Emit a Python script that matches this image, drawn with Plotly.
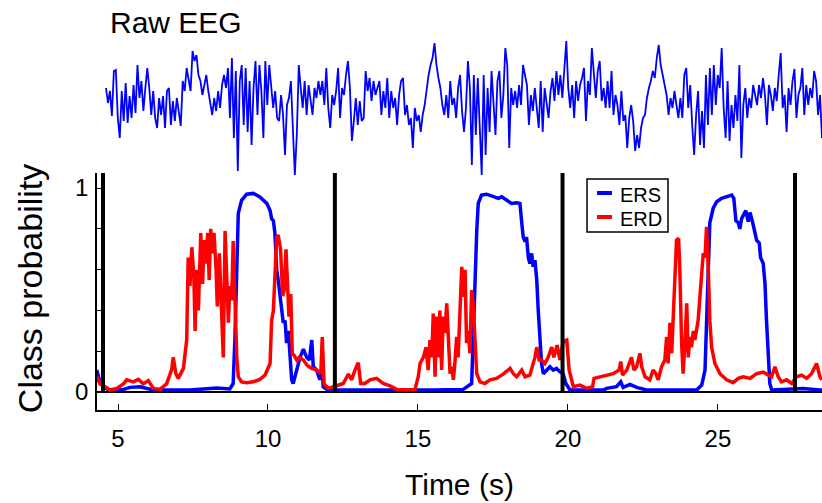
import numpy as np
import plotly.graph_objects as go

# ---------------- data ----------------
# Raw EEG trace (arbitrary units), uniformly sampled between eeg_t_start and eeg_t_end
eeg_t_start = 4.6
eeg_t_end = 28.47
eeg_seg1 = [17, 2, 14, -11, 34, 35, -13, -33, 14, -16, 22, -18, 9, -13, 20, -8, 40, 7, 24, -6,
            17, 37, 17, -10, 14, -13, -23, 7, -10, 9, -23, 14, 17, -20, 4, -16, 7, -10, -21, 24,
            14, 37, 27, 14, 54, 44, 50, 30, 24, 10, 20, 30, 14, 0, -10, 7, -6, 14, -3, 20,
            30, 17, 37, -13, 47, -33, 34, -66, 24, 40, -20, 37, -27, 24]
eeg_seg2 = [-40, 17, 44, -10, 40, 14, -33, 44, 0, 40, 17, -3, 14, -13, -16, 10, -10, -50, 0, 7,
            24, -23, -70, -30, 40, 17, -3, 24, -10, 20, 4, -10, 17, 7, 24, 10, 24, 0, 37, -3,
            -23, 10, 0, 14, 37, -13, 17, 10, 30, 44, 17, -36, -16, 7, -20, 4, -16, -13, 34, 14,
            27, 4, 24, 10, 17, 24, -10, 14, -3, 27, -13, 14]
eeg_seg3 = [-3, 7, -20, 10, 24, 27, -10, 0, -20, -13, -43, -3, -16, -10, -27, -10, 0, 17, 30, 40,
            47, 62, 40, 27, 17, 0, -10, 10, -13, 24, 0, 7, -13, 17, 30, -6, -27, -3, 44, 17,
            -60, 30, -30, 27, -20, -70, 30, -50, 17, -27, 34, 4, -30, 24, 34, -13, 10, 57, 40, -43,
            17, 0, 14, -3, 20, 0, 40, 30, 20, -20, 10, -6, 17]
eeg_seg4 = [-3, -23, 24, -27, 17, 0, -13, 14, 27, 4, 34, 10, 30, 7, 40, 64, 17, -3, 20, -13,
            24, 4, 20, 27, 37, -16, 24, 10, 57, 34, 7, 34, 44, 4, 17, -3, 24, -3, 34, -10,
            10, 0, -20, 14, -16, -10, -43, -13, 0, -16, -46, -30, -43, -23, -13, -10, 7, 17, 24, 34,
            27, 47, 60, 40, 30, 20, 10, -10, 7, -3, 14, 0, -13]
eeg_seg5 = [7, -13, 30, 37, -3, 20, -20, -50, -10, 14, -40, -6, -43, 30, -20, 37, -10, 40, 0, 30,
            17, 57, -3, -33, 24, -36, 0, -23, 10, -16, 40, -53, 0, 17, -13, 7, -3, 20, 10, 0,
            20, 7, 27, 10, -20, 20, 10, -6, 17, 4, 30, 52, -3, 10, -27, 17, 0, 24, 36, -13,
            10, 17, 37, -10, 20, 0, 17, 7, 34, 24, -10, 10, -33]

# ERS class probability (time s, probability)
ers_t = [4.29, 4.38, 4.51, 4.68, 5.18, 5.40, 5.73, 5.96, 6.18, 7.40, 7.96, 8.29, 8.73, 8.84, 8.90,
         8.96, 9.01, 9.12, 9.29, 9.51, 9.73, 9.96, 10.07, 10.12, 10.18, 10.23, 10.29, 10.34, 10.40,
         10.46, 10.51, 10.57, 10.62, 10.68, 10.73, 10.79, 10.84, 10.96, 11.07, 11.18, 11.29, 11.38,
         11.46, 11.51, 11.62, 11.73, 11.81, 11.84, 11.96, 12.29, 13.5, 14.5, 15.5, 16.0, 16.5, 16.79,
         16.84, 16.90, 16.96, 17.01, 17.12, 17.29, 17.51, 17.68, 17.79, 17.96, 18.12, 18.29, 18.40,
         18.46, 18.51, 18.57, 18.62, 18.68, 18.73, 18.79, 18.84, 18.90, 18.96, 19.01, 19.07, 19.12,
         19.18, 19.29, 19.40, 19.51, 19.62, 19.73, 19.84, 19.93, 20.07, 21.18, 21.29, 21.62, 21.76,
         21.84, 22.07, 22.29, 22.46, 22.62, 24.29, 24.46, 24.57, 24.62, 24.68, 24.73, 24.84, 24.96,
         25.12, 25.29, 25.46, 25.53, 25.60, 25.68, 25.73, 25.79, 25.87, 25.93, 26.01, 26.07, 26.16,
         26.23, 26.29, 26.38, 26.42, 26.51, 26.57, 26.62, 26.68, 26.73, 26.79, 27.40, 27.84, 28.40,
         28.47]
ers_p = [0.108, 0.06, 0.026, 0.01, 0.013, 0.023, 0.026, 0.018, 0.01, 0.01, 0.016, 0.02, 0.015, 0.042,
         0.27, 0.60, 0.876, 0.94, 0.97, 0.974, 0.957, 0.925, 0.89, 0.85, 0.84, 0.78, 0.60, 0.55, 0.47,
         0.40, 0.34, 0.35, 0.24, 0.30, 0.21, 0.06, 0.042, 0.108, 0.17, 0.21, 0.17, 0.157,
         0.255, 0.124, 0.108, 0.06, 0.124, 0.026, 0.013, 0.01, 0.012, 0.01, 0.01, 0.012, 0.012, 0.042,
         0.27, 0.60, 0.79, 0.925, 0.966, 0.97, 0.96, 0.95, 0.957, 0.94, 0.925, 0.928, 0.925,
         0.83, 0.76, 0.737, 0.76, 0.66, 0.63, 0.68, 0.614, 0.647, 0.55, 0.40, 0.27, 0.14,
         0.09, 0.108, 0.124, 0.108, 0.116, 0.10, 0.09, 0.042, 0.01, 0.01, 0.018, 0.026, 0.05,
         0.023, 0.038, 0.023, 0.018, 0.01, 0.01, 0.034, 0.108, 0.35, 0.68, 0.83, 0.90, 0.933,
         0.95, 0.96, 0.966, 0.95, 0.84, 0.83, 0.80, 0.85, 0.876, 0.89, 0.835, 0.88, 0.83,
         0.78, 0.745, 0.73, 0.66, 0.63, 0.53, 0.35, 0.157, 0.042, 0.01, 0.013, 0.018, 0.01,
         0.01]

# ERD class probability (time s, probability)
erd_t = [4.29, 4.40, 4.57, 4.73, 4.96, 5.18, 5.29, 5.51, 5.68, 5.84, 6.01, 6.18, 6.40, 6.62, 6.79,
         6.84, 6.93, 7.01, 7.18, 7.29, 7.34, 7.40, 7.46, 7.53, 7.57, 7.62, 7.68, 7.76, 7.82, 7.87,
         7.93, 7.99, 8.04, 8.09, 8.16, 8.20, 8.27, 8.31, 8.38, 8.43, 8.51, 8.57, 8.62, 8.68, 8.73,
         8.79, 8.84, 8.90, 8.96, 9.01, 9.12, 9.29, 9.51, 9.73, 9.90, 10.07, 10.12, 10.18, 10.23,
         10.29, 10.34, 10.42, 10.49, 10.54, 10.60, 10.64, 10.70, 10.76, 10.81, 10.87, 10.96, 11.04,
         11.18, 11.31, 11.46, 11.62, 11.76, 11.81, 11.87, 12.01, 12.18, 12.34, 12.51, 12.68, 12.79,
         12.90, 13.01, 13.09, 13.23, 13.40, 13.62, 13.84, 14.07, 14.29, 14.62, 14.90, 15.01, 15.07,
         15.18, 15.27, 15.34, 15.40, 15.46, 15.51, 15.57, 15.62, 15.68, 15.73, 15.79, 15.84, 15.90,
         15.96, 16.01, 16.07, 16.12, 16.18, 16.23, 16.29, 16.34, 16.40, 16.46, 16.51, 16.57, 16.62,
         16.68, 16.73, 16.79, 16.84, 16.90, 16.96, 17.07, 17.23, 17.40, 17.62, 17.84, 18.07, 18.18,
         18.29, 18.46, 18.57, 18.73, 18.90, 18.96, 19.04, 19.12, 19.23, 19.34, 19.46, 19.53, 19.64,
         19.73, 19.84, 19.96, 20.04, 20.18, 20.40, 20.62, 20.82, 20.87, 21.07, 21.29, 21.51, 21.71,
         21.76, 21.82, 21.96, 22.07, 22.12, 22.20, 22.29, 22.40, 22.46, 22.57, 22.73, 22.84, 22.93,
         23.01, 23.12, 23.23, 23.29, 23.34, 23.40, 23.46, 23.51, 23.57, 23.62, 23.69, 23.73, 23.79,
         23.84, 23.90, 23.96, 24.01, 24.07, 24.12, 24.18, 24.23, 24.29, 24.34, 24.40, 24.46, 24.51,
         24.57, 24.62, 24.68, 24.73, 24.79, 24.90, 25.07, 25.29, 25.51, 25.68, 25.84, 26.07, 26.29,
         26.51, 26.68, 26.79, 26.90, 27.01, 27.12, 27.29, 27.46, 27.62, 27.79, 27.96, 28.12, 28.29,
         28.40, 28.47]
erd_p = [0.075, 0.04, 0.026, 0.01, 0.018, 0.04, 0.06, 0.05, 0.062, 0.04, 0.056, 0.018, 0.013, 0.04, 0.11,
         0.17, 0.09, 0.067, 0.116, 0.255, 0.66, 0.52, 0.71, 0.565, 0.30, 0.60, 0.40, 0.78, 0.53, 0.745,
         0.63, 0.78, 0.55, 0.80, 0.68, 0.78, 0.60, 0.42, 0.68, 0.47, 0.17, 0.79, 0.55, 0.34, 0.52,
         0.45, 0.74, 0.435, 0.17, 0.075, 0.05, 0.046, 0.05, 0.062, 0.083, 0.14, 0.35, 0.40, 0.60,
         0.76, 0.77, 0.70, 0.47, 0.50, 0.70, 0.565, 0.37, 0.48, 0.19, 0.18, 0.157, 0.17,
         0.157, 0.13, 0.116, 0.108, 0.09, 0.27, 0.04, 0.018, 0.026, 0.03, 0.042, 0.088, 0.06,
         0.108, 0.144, 0.042, 0.042, 0.06, 0.067, 0.042, 0.03, 0.013, 0.01, 0.013, 0.075, 0.14,
         0.17, 0.22, 0.108, 0.255, 0.17, 0.385, 0.075, 0.37, 0.17, 0.40, 0.108, 0.37, 0.29,
         0.435, 0.24, 0.09, 0.124, 0.06, 0.14, 0.27, 0.17, 0.40, 0.614, 0.467, 0.60, 0.24,
         0.30, 0.19, 0.50, 0.435, 0.22, 0.09, 0.05, 0.042, 0.06, 0.067, 0.088, 0.116, 0.09,
         0.075, 0.108, 0.075, 0.083, 0.17, 0.22, 0.157, 0.157, 0.14, 0.17, 0.22, 0.17, 0.23,
         0.157, 0.247, 0.255, 0.108, 0.026, 0.034, 0.018, 0.026, 0.067, 0.075, 0.083, 0.09, 0.108,
         0.15, 0.083, 0.108, 0.15, 0.17, 0.108, 0.124, 0.19, 0.124, 0.075, 0.06, 0.108, 0.09,
         0.06, 0.124, 0.157, 0.27, 0.14, 0.34, 0.19, 0.385, 0.63, 0.745, 0.753, 0.60, 0.24,
         0.09, 0.24, 0.435, 0.17, 0.27, 0.22, 0.30, 0.255, 0.30, 0.35, 0.467, 0.614, 0.68,
         0.66, 0.81, 0.60, 0.35, 0.22, 0.14, 0.09, 0.06, 0.046, 0.067, 0.075, 0.067, 0.09,
         0.098, 0.083, 0.075, 0.124, 0.075, 0.05, 0.06, 0.042, 0.075, 0.083, 0.067, 0.09, 0.14,
         0.075, 0.06]

# cue onsets (s)
cue_times = [4.5, 12.23, 19.82, 27.57]
x_ticks = [5, 10, 15, 20, 25]
y_ticks = [0, 0.2, 0.4, 0.6, 0.8, 1.0]
y_tick_text = ["0", "", "", "", "", "1"]
series_names = ["ERS", "ERD"]

# ---------------- figure ----------------
eeg_uv = eeg_seg1 + eeg_seg2 + eeg_seg3 + eeg_seg4 + eeg_seg5
eeg_t = np.linspace(eeg_t_start, eeg_t_end, len(eeg_uv))

FONT = "Liberation Sans, Arial, Helvetica, sans-serif"
BLUE = "#0000ff"
RED = "#ff0000"
series_colors = [BLUE, RED]

fig = go.Figure()
fig.add_trace(go.Scatter(x=eeg_t, y=eeg_uv, xaxis="x", yaxis="y2", mode="lines",
                         line=dict(color=BLUE, width=1.8), showlegend=False, hoverinfo="skip"))
fig.add_trace(go.Scatter(x=ers_t, y=ers_p, name=series_names[0], mode="lines",
                         line=dict(color=series_colors[0], width=3.5), showlegend=False))
fig.add_trace(go.Scatter(x=erd_t, y=erd_p, name=series_names[1], mode="lines",
                         line=dict(color=series_colors[1], width=3.5), showlegend=False))

for t in cue_times:
    fig.add_shape(type="line", xref="x", yref="y", x0=t, x1=t, y0=0, y1=1.074,
                  line=dict(color="black", width=4), layer="above")

# legend box (drawn in paper coordinates)
fig.add_shape(type="rect", xref="paper", yref="paper", x0=0.6759, x1=0.7876, y0=0.4684, y1=0.6079,
              line=dict(color="black", width=1.5), fillcolor="white", layer="above")
annotations = []
for i, (name, col) in enumerate(zip(series_names, series_colors)):
    ly = 0.5711 - i * 0.0632
    fig.add_shape(type="line", xref="paper", yref="paper", x0=0.6897, x1=0.7103, y0=ly, y1=ly,
                  line=dict(color=col, width=4), layer="above")
    annotations.append(dict(text=name, xref="paper", yref="paper", x=0.7186, y=ly - 0.004,
                            xanchor="left", yanchor="middle", showarrow=False,
                            font=dict(size=20, family=FONT)))

annotations += [
    dict(text="Raw EEG", xref="paper", yref="paper", x=0.109, y=1.021,
         xanchor="center", yanchor="middle", showarrow=False,
         font=dict(size=30, family=FONT)),
    dict(text="Time (s)", xref="paper", yref="paper", x=0.5, y=-0.195,
         xanchor="center", yanchor="middle", showarrow=False,
         font=dict(size=30, family=FONT)),
    dict(text="Class probability", xref="paper", yref="paper", x=-0.0924, y=0.318,
         xanchor="center", yanchor="middle", showarrow=False, textangle=-90,
         font=dict(size=34, family=FONT)),
]

fig.update_layout(
    width=822, height=503,
    margin=dict(l=97, r=0, t=30, b=93),
    paper_bgcolor="white", plot_bgcolor="white",
    font=dict(family=FONT, color="black"),
    xaxis=dict(range=[4.3, 28.47], domain=[0, 1], anchor="y",
               showline=True, linecolor="black", linewidth=1.5,
               ticks="inside", ticklen=6, tickwidth=1, tickcolor="black",
               tickvals=x_ticks, showgrid=False, zeroline=False,
               tickfont=dict(size=24, family=FONT), ticklabelstandoff=6),
    yaxis=dict(domain=[0, 0.6237], range=[-0.088, 1.074], anchor="x",
               showline=True, linecolor="black", linewidth=1.5,
               ticks="inside", ticklen=5, tickwidth=1, tickcolor="black",
               tickvals=y_ticks, ticktext=y_tick_text, showgrid=False,
               zeroline=True, zerolinecolor="black", zerolinewidth=1.5,
               tickfont=dict(size=24, family=FONT), ticklabelstandoff=2),
    yaxis2=dict(domain=[0.6053, 0.9842], range=[-75, 69], anchor="x", visible=False),
    showlegend=False,
    annotations=annotations,
)

fig.write_html("out.html", config={"displayModeBar": False},
               post_script="document.body.style.margin='0';")
